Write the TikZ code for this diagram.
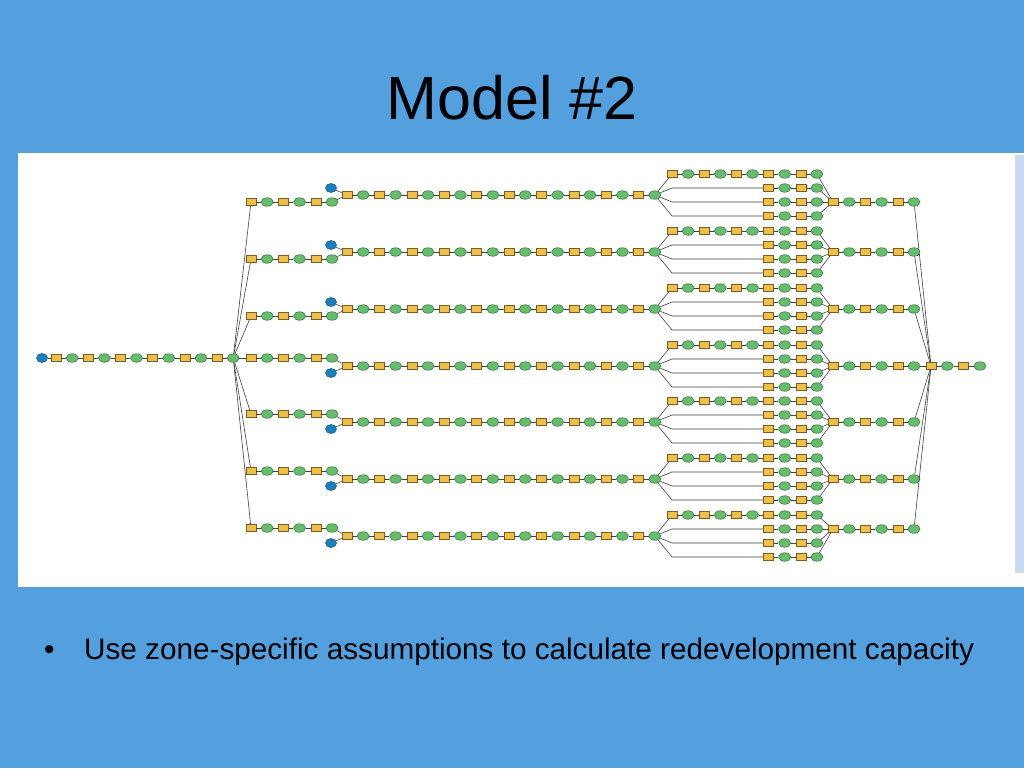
\documentclass[tikz,border=0pt]{standalone}
\usepackage{fontspec}
\setmainfont{Liberation Sans}
\usetikzlibrary{shapes.geometric}
\definecolor{slideblue}{RGB}{84,159,221}
\definecolor{scrollblue}{RGB}{200,218,242}
\definecolor{toolfill}{RGB}{236,192,74}
\definecolor{tooldraw}{RGB}{125,92,36}
\definecolor{datafill}{RGB}{104,188,110}
\definecolor{datadraw}{RGB}{50,118,60}
\definecolor{srcfill}{RGB}{28,128,186}
\definecolor{srcdraw}{RGB}{18,86,136}
\tikzset{
    base/.style = {inner sep=0pt, line width=0.55pt},
    % Model elements
    tool/.style    = {base, rectangle, draw=tooldraw, fill=toolfill, minimum width=10pt, minimum height=7pt},
    dataset/.style = {base, ellipse, draw=datadraw, fill=datafill, minimum width=12pt, minimum height=8.5pt},
    source/.style  = {base, ellipse, draw=srcdraw, fill=srcfill, minimum width=11pt, minimum height=9pt},
    % Connectors and slide text
    link/.style = {line width=0.6pt, draw=black!75},
    heading/.style = {font=\fontsize{61}{73}\selectfont, anchor=base, inner sep=0pt},
    bodytext/.style = {font=\fontsize{29.7}{36}\selectfont, anchor=base west, inner sep=0pt}
}

\begin{document}
\begin{tikzpicture}[x=1pt, y=-1pt]

    % Slide
    \fill[slideblue] (0,0) rectangle (1024,768);
    \useasboundingbox (0,0) rectangle (1024,768);
    \fill[white] (18,153) rectangle (1024,587);
    \filldraw[fill=scrollblue, draw=black!15] (1015,155) rectangle (1026,572);
    \node[heading] (title) at (512,119) {Model \#2};
    \node[bodytext] (dot) at (44,659) {•};
    \node[bodytext] (caption) at (84,659) {Use zone-specific assumptions to calculate redevelopment capacity};

    % Nodes: input chain and hub
    \node[source] (m0) at (42,358) {};
    \foreach \i in {1,...,12} {
        \ifodd\i\relax \node[tool] (m\i) at (40+16.1*\i,358) {};
        \else \node[dataset] (m\i) at (40+16.1*\i,358) {}; \fi
    }
    \foreach \i [count=\j from 0] in {1,...,12}
        \draw[link] (m\j) -- (m\i);

    % Nodes: output chain
    \foreach \k in {0,...,3} {
        \ifodd\k\relax \node[dataset] (f\k) at (931+16.3*\k,366) {};
        \else \node[tool] (f\k) at (931+16.3*\k,366) {}; \fi
    }
    \foreach \k [count=\j from 0] in {1,...,3}
        \draw[link] (f\j) -- (f\k);

    % One branch per zone
    \foreach \r/\cy/\ay/\by/\my in {1/195/202/188/202, 2/252/259/245/252, 3/309/316/302/309,
            4/366/358/373/366, 5/422/414/429/422, 6/479/471/486/479, 7/536/528/543/529} {
        % first leg
        \foreach \i in {1,...,6} {
            \ifodd\i\relax \node[tool] (a\r-\i) at (234.8+16.2*\i,\ay) {};
            \else \node[dataset] (a\r-\i) at (234.8+16.2*\i,\ay) {}; \fi
        }
        \node[source] (b\r) at (331,\by) {};
        % long chain
        \foreach \k in {0,...,19} {
            \ifodd\k\relax \node[dataset] (c\r-\k) at (347+16.2*\k,\cy) {};
            \else \node[tool] (c\r-\k) at (347+16.2*\k,\cy) {}; \fi
        }
        % four sub-branches
        \foreach \s in {1,...,4} {
            \pgfmathsetmacro\sy{\cy-35+14*\s}
            \coordinate (k\r-\s) at (672,\sy);
            \ifnum\s=1 \def\kfirst{0}\else\def\kfirst{6}\fi
            \foreach \k in {\kfirst,...,9} {
                \ifodd\k\relax \node[dataset] (p\r-\s-\k) at (672+16.1*\k,\sy) {};
                \else \node[tool] (p\r-\s-\k) at (672+16.1*\k,\sy) {}; \fi
            }
        }
        % merged chain
        \foreach \k in {0,...,5} {
            \ifodd\k\relax \node[dataset] (q\r-\k) at (833+16.2*\k,\my) {};
            \else \node[tool] (q\r-\k) at (833+16.2*\k,\my) {}; \fi
        }

        % Edges
        \draw[link] (m12) -- (a\r-1);
        \foreach \i [count=\j] in {2,...,6}
            \draw[link] (a\r-\j) -- (a\r-\i);
        \draw[link] (a\r-6) -- (c\r-0);
        \draw[link] (b\r) -- (c\r-0);
        \foreach \k [count=\j from 0] in {1,...,19}
            \draw[link] (c\r-\j) -- (c\r-\k);
        \draw[link] (c\r-19) -- (p\r-1-0);
        \foreach \k [count=\j from 0] in {1,...,9}
            \draw[link] (p\r-1-\j) -- (p\r-1-\k);
        \foreach \s in {2,3,4} {
            \draw[link] (c\r-19) -- (k\r-\s) -- (p\r-\s-6);
            \foreach \k [count=\j from 6] in {7,8,9}
                \draw[link] (p\r-\s-\j) -- (p\r-\s-\k);
        }
        \foreach \s in {1,...,4}
            \draw[link] (p\r-\s-9) -- (q\r-0);
        \foreach \k [count=\j from 0] in {1,...,5}
            \draw[link] (q\r-\j) -- (q\r-\k);
        \draw[link] (q\r-5) -- (f0);
    }
\end{tikzpicture}
\end{document}
